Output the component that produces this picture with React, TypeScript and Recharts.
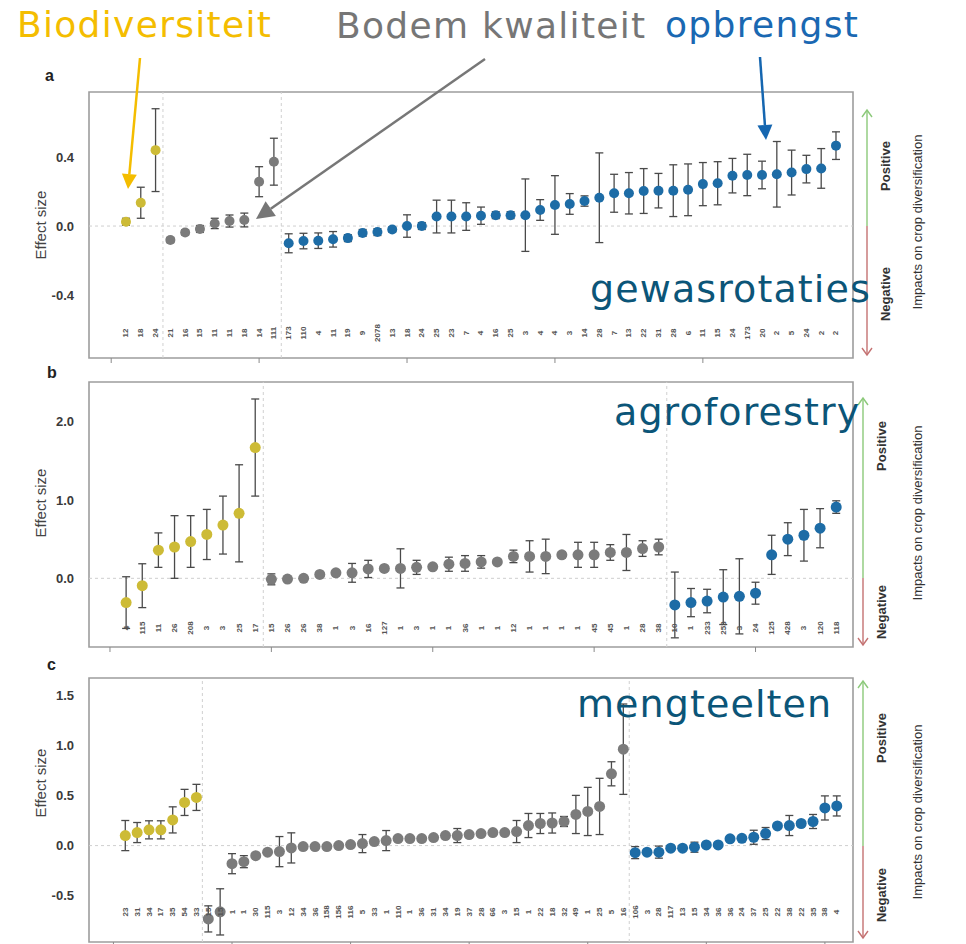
import React from "react";
import {
  ErrorBar,
  ReferenceArea,
  ReferenceLine,
  Scatter,
  ScatterChart,
  XAxis,
  YAxis,
} from "recharts";

const YELLOW = "#cdbb36";
const GREY = "#7b7b7b";
const BLUE = "#1d6ca6";
const BAR = "#4a4a4a";
const TEAL = "#0b5578";

// panel a – crop rotation
const aBio = [0.025, 0.135, 0.44];
const aBioErr = [0.02, 0.09, 0.24];
const aSoil = [-0.081, -0.037, -0.017, 0.015, 0.029, 0.035, 0.257, 0.373];
const aSoilErr = [0.015, 0.015, 0.02, 0.03, 0.035, 0.04, 0.087, 0.136];
const aYield = [
  -0.1, -0.087, -0.085, -0.077, -0.07, -0.04, -0.035, -0.02, 0.0, 0.0, 0.055,
  0.055, 0.055, 0.06, 0.063, 0.063, 0.063, 0.093, 0.122, 0.128, 0.145, 0.164,
  0.19, 0.19, 0.203, 0.205, 0.205, 0.21, 0.243, 0.248, 0.292, 0.296, 0.296,
  0.3, 0.31, 0.33, 0.334, 0.466,
];
const aYieldErr = [
  0.055, 0.045, 0.045, 0.045, 0.02, 0.02, 0.02, 0.015, 0.065, 0.02, 0.095,
  0.095, 0.08, 0.05, 0.02, 0.02, 0.21, 0.06, 0.17, 0.06, 0.03, 0.26, 0.11,
  0.12, 0.13, 0.1, 0.15, 0.15, 0.125, 0.125, 0.1, 0.12, 0.08, 0.19, 0.13,
  0.08, 0.115, 0.08,
];
const aN = [
  "12", "18", "24", "21", "16", "15", "11", "11", "18", "14", "111", "173",
  "110", "4", "11", "19", "9", "2078", "13", "18", "24", "25", "23", "7", "4",
  "16", "25", "3", "4", "4", "3", "14", "28", "7", "13", "22", "31", "28", "6",
  "11", "15", "24", "173", "20", "2", "5", "24", "2", "2",
];

// panel b – agroforestry
const bBio = [-0.31, -0.094, 0.36, 0.4, 0.47, 0.56, 0.68, 0.83, 1.67];
const bBioErr = [0.33, 0.28, 0.22, 0.4, 0.33, 0.32, 0.37, 0.62, 0.62];
const bSoil = [
  -0.013, -0.01, 0.0, 0.05, 0.07, 0.07, 0.12, 0.127, 0.127, 0.14, 0.147, 0.18,
  0.19, 0.21, 0.21, 0.28, 0.28, 0.28, 0.3, 0.3, 0.3, 0.33, 0.33, 0.38, 0.4,
];
const bSoilErr = [
  0.07, 0.02, 0.02, 0.03, 0.03, 0.12, 0.11, 0.03, 0.25, 0.09, 0.03, 0.09, 0.1,
  0.08, 0.03, 0.08, 0.2, 0.22, 0.04, 0.16, 0.16, 0.1, 0.23, 0.1, 0.1,
];
const bYield = [-0.34, -0.31, -0.29, -0.24, -0.23, -0.19, 0.3, 0.5, 0.55, 0.64, 0.91];
const bYieldErr = [0.42, 0.18, 0.15, 0.35, 0.48, 0.14, 0.25, 0.21, 0.33, 0.25, 0.08];
const bN = [
  "4", "115", "11", "26", "208", "3", "3", "25", "17", "15", "26", "26", "38",
  "1", "3", "16", "127", "1", "3", "1", "1", "36", "1", "1", "12", "1", "1",
  "1", "1", "45", "45", "1", "28", "38", "10", "1", "233", "253", "3", "24",
  "125", "428", "3", "120", "118",
];

// panel c – intercropping
const cBio = [0.1, 0.13, 0.157, 0.157, 0.256, 0.43, 0.48];
const cBioErr = [0.15, 0.1, 0.09, 0.09, 0.13, 0.13, 0.13];
const cSoil = [
  -0.73, -0.66, -0.18, -0.16, -0.1, -0.066, -0.06, -0.023, -0.01, -0.01, -0.01,
  0.0, 0.01, 0.02, 0.04, 0.05, 0.07, 0.07, 0.07, 0.08, 0.1, 0.1, 0.11, 0.12,
  0.13, 0.13, 0.14, 0.2, 0.22, 0.225, 0.24, 0.31, 0.34, 0.39, 0.715, 0.96,
];
const cSoilErr = [
  0.13, 0.23, 0.1, 0.06, 0.02, 0.02, 0.15, 0.15, 0.02, 0.02, 0.02, 0.02, 0.02,
  0.09, 0.02, 0.1, 0.02, 0.02, 0.02, 0.02, 0.02, 0.07, 0.02, 0.02, 0.02, 0.02,
  0.11, 0.12, 0.1, 0.1, 0.05, 0.19, 0.24, 0.28, 0.12, 0.45,
];
const cYield = [
  -0.07, -0.065, -0.065, -0.026, -0.026, -0.016, 0.007, 0.007, 0.067, 0.073,
  0.083, 0.12, 0.196, 0.2, 0.22, 0.24, 0.375, 0.395,
];
const cYieldErr = [
  0.06, 0.02, 0.06, 0.02, 0.02, 0.05, 0.02, 0.02, 0.02, 0.02, 0.07, 0.06, 0.02,
  0.1, 0.02, 0.07, 0.12, 0.1,
];
const cN = [
  "23", "31", "34", "17", "35", "54", "33", "15", "15", "1", "1", "30", "115",
  "3", "12", "34", "36", "158", "156", "116", "5", "33", "1", "110", "1", "36",
  "31", "34", "19", "37", "28", "66", "3", "15", "1", "22", "18", "32", "49",
  "1", "25", "5", "16", "106", "3", "28", "117", "13", "15", "34", "36", "36",
  "24", "37", "25", "22", "38", "22", "35", "38", "4",
];

const toPoints = (vals: number[], errs: number[], start: number) =>
  vals.map((y, i) => ({ x: start + i, y, err: errs[i] }));

function NTick(props: any) {
  const { x, y, payload, labels, rowOffset } = props;
  const v = payload.value;
  const txt = v >= 0 ? labels[v] ?? "" : "";
  const mark = (v + 1) % 10 === 0;
  const ty = y - rowOffset;
  return (
    <g>
      {mark && <line x1={x} x2={x} y1={y} y2={y + 5} stroke="#8a8a8a" />}
      {txt && (
        <text
          x={x}
          y={ty}
          transform={`rotate(-90 ${x} ${ty})`}
          textAnchor="middle"
          dominantBaseline="central"
          fontSize={8}
          fontWeight={700}
          fontFamily="Liberation Sans"
          fill="#555"
        >
          {txt}
        </text>
      )}
    </g>
  );
}

interface PanelProps {
  top: number;
  height: number;
  bottom: number;
  bio: number[];
  bioErr: number[];
  soil: number[];
  soilErr: number[];
  yld: number[];
  yldErr: number[];
  labels: string[];
  xDomain: [number, number];
  yDomain: [number, number];
  yTicks: number[];
  dotR: number;
  rowOffset: number;
}

function Panel(p: PanelProps) {
  const total = p.bio.length + p.soil.length + p.yld.length;
  const ticks = [-1, ...Array.from({ length: total }, (_, i) => i)];
  const dot = (color: string) => (s: any) =>
    <circle cx={s.cx} cy={s.cy} r={p.dotR} fill={color} />;
  const series: [number[], number[], number, string][] = [
    [p.bio, p.bioErr, 0, YELLOW],
    [p.soil, p.soilErr, p.bio.length, GREY],
    [p.yld, p.yldErr, p.bio.length + p.soil.length, BLUE],
  ];
  return (
    <div style={{ position: "absolute", left: 0, top: p.top }}>
      <ScatterChart
        width={966}
        height={p.height}
        margin={{ top: 10, right: 113, bottom: p.bottom - 2, left: 49 }}
      >
        <XAxis
          type="number"
          dataKey="x"
          domain={p.xDomain}
          ticks={ticks}
          interval={0}
          height={2}
          axisLine={false}
          tickLine={false}
          tickSize={0}
          tickMargin={0}
          allowDataOverflow
          tick={<NTick labels={p.labels} rowOffset={p.rowOffset} />}
        />
        <YAxis
          type="number"
          dataKey="y"
          domain={p.yDomain}
          ticks={p.yTicks}
          width={40}
          axisLine={false}
          tickLine={false}
          tickMargin={9}
          allowDataOverflow
          tickFormatter={(v: number) => v.toFixed(1)}
          tick={{
            fontSize: 13,
            fontWeight: 700,
            fill: "#3a3a3a",
            fontFamily: "Liberation Sans",
          }}
        />
        <ReferenceLine y={0} stroke="#cfcfcf" strokeDasharray="3 3" />
        <ReferenceLine
          x={p.bio.length - 0.5}
          stroke="#d0d0d0"
          strokeDasharray="3 3"
        />
        <ReferenceLine
          x={p.bio.length + p.soil.length - 0.5}
          stroke="#d0d0d0"
          strokeDasharray="3 3"
        />
        <ReferenceArea
          x1={p.xDomain[0]}
          x2={p.xDomain[1]}
          y1={p.yDomain[0]}
          y2={p.yDomain[1]}
          fill="none"
          stroke="#9d9d9d"
          strokeWidth={1.6}
        />
        {series.map(([vals, errs, start, color], k) => (
          <Scatter
            key={k}
            data={toPoints(vals, errs, start)}
            shape={dot(color)}
            isAnimationActive={false}
          >
            <ErrorBar
              dataKey="err"
              direction="y"
              width={4}
              stroke={BAR}
              strokeWidth={1.3}
            />
          </Scatter>
        ))}
      </ScatterChart>
    </div>
  );
}

function Arrow({ x1, y1, x2, y2, color, head = 15 }: any) {
  const a = Math.atan2(y2 - y1, x2 - x1);
  const bx = x2 - head * Math.cos(a);
  const by = y2 - head * Math.sin(a);
  const px = Math.sin(a) * head * 0.5;
  const py = -Math.cos(a) * head * 0.5;
  return (
    <g>
      <line x1={x1} y1={y1} x2={bx} y2={by} stroke={color} strokeWidth={2.5} />
      <polygon
        points={`${x2},${y2} ${bx + px},${by + py} ${bx - px},${by - py}`}
        fill={color}
      />
    </g>
  );
}

function Side({ x, top, zero, bottom, posY, negY, impY }: any) {
  const green = "#8cc97a";
  const red = "#c47272";
  const txt = {
    fontFamily: "Liberation Sans",
    fontSize: 13,
    fill: "#333",
    textAnchor: "middle" as const,
    dominantBaseline: "central" as const,
  };
  return (
    <g>
      <line x1={x} x2={x} y1={zero} y2={top} stroke={green} strokeWidth={1.4} />
      <polyline
        points={`${x - 5},${top + 7} ${x},${top} ${x + 5},${top + 7}`}
        fill="none"
        stroke={green}
        strokeWidth={1.4}
      />
      <line x1={x} x2={x} y1={zero} y2={bottom} stroke={red} strokeWidth={1.4} />
      <polyline
        points={`${x - 5},${bottom - 7} ${x},${bottom} ${x + 5},${bottom - 7}`}
        fill="none"
        stroke={red}
        strokeWidth={1.4}
      />
      <text {...txt} fontWeight={700} x={x + 18} y={posY} transform={`rotate(-90 ${x + 18} ${posY})`}>
        Positive
      </text>
      <text {...txt} fontWeight={700} x={x + 18} y={negY} transform={`rotate(-90 ${x + 18} ${negY})`}>
        Negative
      </text>
      <text {...txt} x={917} y={impY} transform={`rotate(-90 917 ${impY})`}>
        Impacts on crop diversification
      </text>
    </g>
  );
}

function Overlay() {
  const big = {
    fontFamily: "DejaVu Sans",
    fontSize: 36,
    letterSpacing: 1.3,
  };
  const name = { fontFamily: "DejaVu Sans", fontSize: 38, letterSpacing: 1.1, fill: TEAL };
  const letter = { fontFamily: "Liberation Sans", fontSize: 16, fontWeight: 700, fill: "#222" };
  const eff = {
    fontFamily: "Liberation Sans",
    fontSize: 15,
    fill: "#444",
    textAnchor: "middle" as const,
    dominantBaseline: "central" as const,
  };
  return (
    <svg
      width={966}
      height={944}
      style={{ position: "absolute", left: 0, top: 0, pointerEvents: "none" }}
    >
      <text {...big} x={17} y={37} fill="#f4bd00">Biodiversiteit</text>
      <text {...big} x={336} y={38} fill="#767676">Bodem kwaliteit</text>
      <text {...big} x={665} y={37} fill="#1a68b2">opbrengst</text>
      <Arrow x1={140} y1={58} x2={128} y2={189} color="#f4bd00" />
      <Arrow x1={485} y1={59} x2={256} y2={219} color="#777777" head={18} />
      <Arrow x1={760} y1={57} x2={766} y2={140} color="#1566b0" />

      <text {...letter} x={45} y={81}>a</text>
      <text {...letter} x={47} y={378}>b</text>
      <text {...letter} x={47} y={670}>c</text>

      <text {...eff} x={40} y={225} transform="rotate(-90 40 225)">Effect size</text>
      <text {...eff} x={40} y={503} transform="rotate(-90 40 503)">Effect size</text>
      <text {...eff} x={40} y={783} transform="rotate(-90 40 783)">Effect size</text>

      <Side x={867} top={110} zero={226} bottom={355} posY={166} negY={294} impY={222} />
      <Side x={863} top={398} zero={578} bottom={645} posY={446} negY={612} impY={513} />
      <Side x={863} top={681} zero={846} bottom={938} posY={738} negY={895} impY={812} />

      <text {...name} x={590} y={302}>gewasrotaties</text>
      <text {...name} x={614} y={425}>agroforestry</text>
      <text {...name} x={577} y={717}>mengteelten</text>
    </svg>
  );
}

export default function App() {
  return (
    <div
      style={{
        position: "absolute",
        left: 0,
        top: 0,
        width: 966,
        height: 944,
        background: "#fff",
        overflow: "hidden",
      }}
    >
      <Panel
        top={82}
        height={286}
        bottom={10}
        bio={aBio}
        bioErr={aBioErr}
        soil={aSoil}
        soilErr={aSoilErr}
        yld={aYield}
        yldErr={aYieldErr}
        labels={aN}
        xDomain={[-2.5, 49.15]}
        yDomain={[-0.765, 0.777]}
        yTicks={[-0.4, 0, 0.4]}
        dotR={5}
        rowOffset={25}
      />
      <Panel
        top={372}
        height={285}
        bottom={10}
        bio={bBio}
        bioErr={bBioErr}
        soil={bSoil}
        soilErr={bSoilErr}
        yld={bYield}
        yldErr={bYieldErr}
        labels={bN}
        xDomain={[-2.3, 45.04]}
        yDomain={[-0.877, 2.507]}
        yTicks={[0, 1, 2]}
        dotR={5.5}
        rowOffset={19}
      />
      <Panel
        top={668}
        height={276}
        bottom={2}
        bio={cBio}
        bioErr={cBioErr}
        soil={cSoil}
        soilErr={cSoilErr}
        yld={cYield}
        yldErr={cYieldErr}
        labels={cN}
        xDomain={[-3.06, 61.37]}
        yDomain={[-0.96, 1.669]}
        yTicks={[-0.5, 0, 0.5, 1, 1.5]}
        dotR={5.5}
        rowOffset={30}
      />
      <Overlay />
    </div>
  );
}
